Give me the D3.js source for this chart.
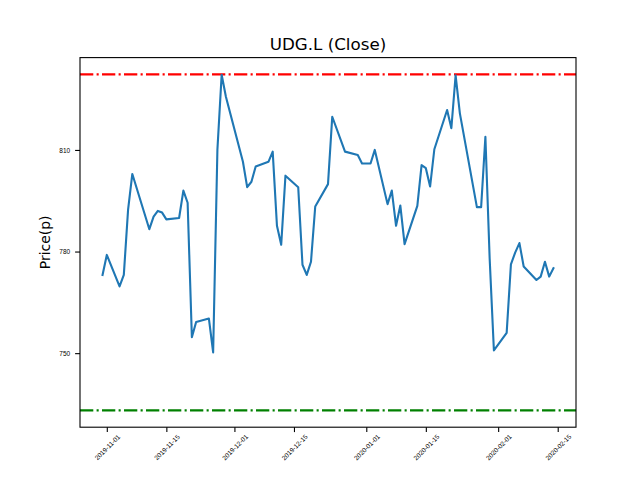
<!DOCTYPE html>
<html>
<head>
  <meta charset="utf-8">
  <title>UDG.L (Close)</title>
  <style type="text/css">
    body {
      margin: 0;
      background-color: #fff;
      font-family: "DejaVu Sans", sans-serif;
    }
    svg {
      background-color: white;
      display: block;
    }
    .tick text {
      font-size: 6.5px;
      fill: #000;
    }
  </style>
  <script src="https://d3js.org/d3.v7.min.js"></script>
</head>
<body>

<script>
// trading days and closing prices (pence)
var dates = [
  "2019-10-31", "2019-11-01", "2019-11-04", "2019-11-05", "2019-11-06", "2019-11-07",
  "2019-11-11", "2019-11-12", "2019-11-13", "2019-11-14", "2019-11-15", "2019-11-18",
  "2019-11-19", "2019-11-20", "2019-11-21", "2019-11-22", "2019-11-25", "2019-11-26",
  "2019-11-27", "2019-11-28", "2019-11-29", "2019-12-03", "2019-12-04", "2019-12-05",
  "2019-12-06", "2019-12-09", "2019-12-10", "2019-12-11", "2019-12-12", "2019-12-13",
  "2019-12-16", "2019-12-17", "2019-12-18", "2019-12-19", "2019-12-20", "2019-12-23",
  "2019-12-24", "2019-12-27", "2019-12-30", "2019-12-31", "2020-01-02", "2020-01-03",
  "2020-01-06", "2020-01-07", "2020-01-08", "2020-01-09", "2020-01-10", "2020-01-13",
  "2020-01-14", "2020-01-15", "2020-01-16", "2020-01-17", "2020-01-20", "2020-01-21",
  "2020-01-22", "2020-01-23", "2020-01-27", "2020-01-28", "2020-01-29", "2020-01-30",
  "2020-01-31", "2020-02-03", "2020-02-04", "2020-02-05", "2020-02-06", "2020-02-07",
  "2020-02-10", "2020-02-11", "2020-02-12", "2020-02-13", "2020-02-14"
];

var closes = [
  773.1, 779.0, 769.7, 773.1, 792.3, 802.9,
  786.6, 790.3, 792.0, 791.5, 789.5, 789.9,
  798.0, 794.4, 754.7, 759.2, 760.2, 750.2,
  810.0, 832.2, 825.7, 806.5, 799.0, 800.6,
  805.1, 806.5, 809.5, 787.6, 782.0, 802.4,
  799.0, 776.1, 773.1, 777.0, 793.3, 799.9,
  819.8, 809.5, 808.5, 806.0, 806.0, 810.0,
  794.0, 798.0, 787.6, 793.6, 782.2, 793.5,
  805.5, 804.6, 799.2, 810.2, 821.8, 816.4,
  832.0, 820.8, 793.1, 793.1, 813.9, 778.0,
  750.8, 756.0, 776.2, 779.7, 782.5, 775.6,
  771.6, 772.6, 777.0, 772.6, 775.1
];

// horizontal reference levels
var resistance = 832.3;
var support = 733.1;

var yTicks = [750, 780, 810];
var xTickLabels = [
  "2019-11-01", "2019-11-15", "2019-12-01", "2019-12-15",
  "2020-01-01", "2020-01-15", "2020-02-01", "2020-02-15"
];

var W = 640, H = 480;
var margin = {top: 57.6, right: 64, bottom: 52.8, left: 80};
var width = W - margin.left - margin.right;
var height = H - margin.top - margin.bottom;

var parse = d3.utcParse("%Y-%m-%d");
var data = dates.map(function(d, i) { return {date: parse(d), close: closes[i]}; });

var svg = d3.select("body").append("svg")
  .attr("width", W)
  .attr("height", H);

var chart = svg.append("g")
  .attr("transform", "translate(" + margin.left + "," + margin.top + ")");

// matplotlib style 5% padding on both axes
var xExt = d3.extent(data, function(d) { return d.date; });
var xPad = (xExt[1] - xExt[0]) * 0.05;
var xscale = d3.scaleUtc()
  .domain([new Date(+xExt[0] - xPad), new Date(+xExt[1] + xPad)])
  .range([0, width]);

var yMin = d3.min([d3.min(closes), support, resistance]);
var yMax = d3.max([d3.max(closes), support, resistance]);
var yPad = (yMax - yMin) * 0.05;
var yscale = d3.scaleLinear()
  .domain([yMin - yPad, yMax + yPad])
  .range([height, 0]);

// axes
var xaxis = d3.axisBottom(xscale)
  .tickValues(xTickLabels.map(parse))
  .tickFormat(d3.utcFormat("%Y-%m-%d"))
  .tickSize(4.9)
  .tickPadding(3);

var gx = chart.append("g")
  .attr("transform", "translate(0," + height + ")")
  .call(xaxis);
gx.select(".domain").remove();
gx.selectAll(".tick line").attr("stroke", "#000").attr("stroke-width", 1.1);
gx.selectAll(".tick text")
  .attr("y", 0)
  .attr("dy", null)
  .attr("text-anchor", "middle")
  .attr("dominant-baseline", "central")
  .attr("transform", "translate(0,20) rotate(-45)");

var yaxis = d3.axisLeft(yscale)
  .tickValues(yTicks)
  .tickSize(4.9)
  .tickPadding(4.9);

var gy = chart.append("g").call(yaxis);
gy.select(".domain").remove();
gy.selectAll(".tick line").attr("stroke", "#000").attr("stroke-width", 1.1);

// reference lines
function refLine(v, colour) {
  chart.append("line")
    .attr("x1", 0)
    .attr("x2", width)
    .attr("y1", yscale(v))
    .attr("y2", yscale(v))
    .attr("stroke", colour)
    .attr("stroke-width", 2.1)
    .attr("stroke-dasharray", "13.3,3.3,2.1,3.3");
}
refLine(resistance, "#ff0000");
refLine(support, "#008000");

// close price line
var line = d3.line()
  .x(function(d) { return xscale(d.date); })
  .y(function(d) { return yscale(d.close); });

chart.append("path")
  .datum(data)
  .attr("d", line)
  .attr("fill", "none")
  .attr("stroke", "#1f77b4")
  .attr("stroke-width", 2.1)
  .attr("stroke-linejoin", "round")
  .attr("stroke-linecap", "square");

// frame
chart.append("rect")
  .attr("width", width)
  .attr("height", height)
  .attr("fill", "none")
  .attr("stroke", "#000")
  .attr("stroke-width", 1.1);

// title and y label
svg.append("text")
  .attr("x", margin.left + width / 2)
  .attr("y", 50)
  .attr("text-anchor", "middle")
  .style("font-size", "16.7px")
  .text("UDG.L (Close)");

svg.append("text")
  .attr("transform", "translate(50," + (margin.top + height / 2) + ") rotate(-90)")
  .attr("text-anchor", "middle")
  .style("font-size", "13.9px")
  .text("Price(p)");
</script>

</body>
</html>
